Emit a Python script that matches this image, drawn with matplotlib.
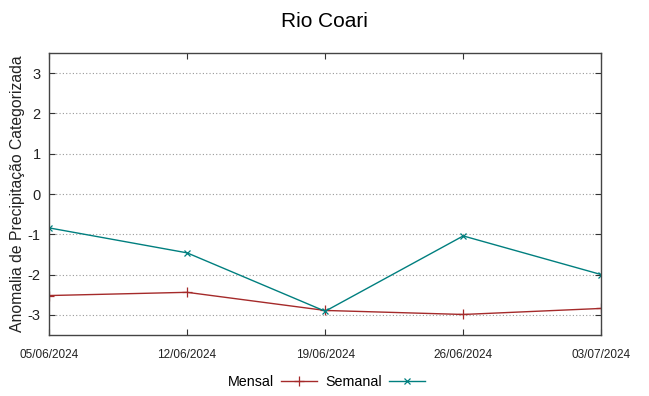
import matplotlib
matplotlib.use("Agg")
import matplotlib.pyplot as plt

plt.rcParams['font.family'] = ['Liberation Sans', 'DejaVu Sans']

# dados
datas = ['05/06/2024', '12/06/2024', '19/06/2024', '26/06/2024', '03/07/2024']
mensal = [-2.52, -2.44, -2.89, -2.99, -2.84]
semanal = [-0.84, -1.46, -2.91, -1.04, -2.0]
yticks = [-3, -2, -1, 0, 1, 2, 3]

fig = plt.figure(figsize=(6.49, 3.96), dpi=100)
ax = fig.add_axes([0.0755, 0.154, 0.851, 0.712])

x = list(range(len(datas)))
l1, = ax.plot(x, mensal, color='#a52a2a', lw=1, marker='+', ms=7, mew=0.9, label='Mensal')
l2, = ax.plot(x, semanal, color='#007f7f', lw=1, marker='x', ms=5, mew=0.9, label='Semanal')

ax.set_xlim(0, len(datas) - 1)
ax.set_ylim(-3.5, 3.5)
ax.set_xticks(x)
ax.set_xticklabels(datas, fontsize=8.5)
ax.set_yticks(yticks)
ax.set_yticklabels([str(v) for v in yticks], fontsize=10.5)
ax.tick_params(direction='in', top=True, right=True, length=4, width=0.8, colors='#333333', labelcolor='#222222')
ax.tick_params(axis='x', pad=10)
ax.tick_params(axis='y', pad=6)
ax.grid(True, axis='y', linestyle=(0, (1, 2)), color='#999999', lw=0.8)
for s in ax.spines.values():
    s.set_color('#444444')
    s.set_linewidth(1)

ax.set_ylabel('Anomalia de Precipitação Categorizada', fontsize=11.3, color='#222222', labelpad=2)
fig.suptitle('Rio Coari', fontsize=15, y=0.97)

fig.legend(handles=[l1, l2], loc='center', bbox_to_anchor=(0.503, 0.035), ncol=2, frameon=False,
           markerfirst=False, fontsize=10.3, handlelength=2.5, handletextpad=0.5, columnspacing=0.6)

fig.savefig('out.png', dpi=100)
